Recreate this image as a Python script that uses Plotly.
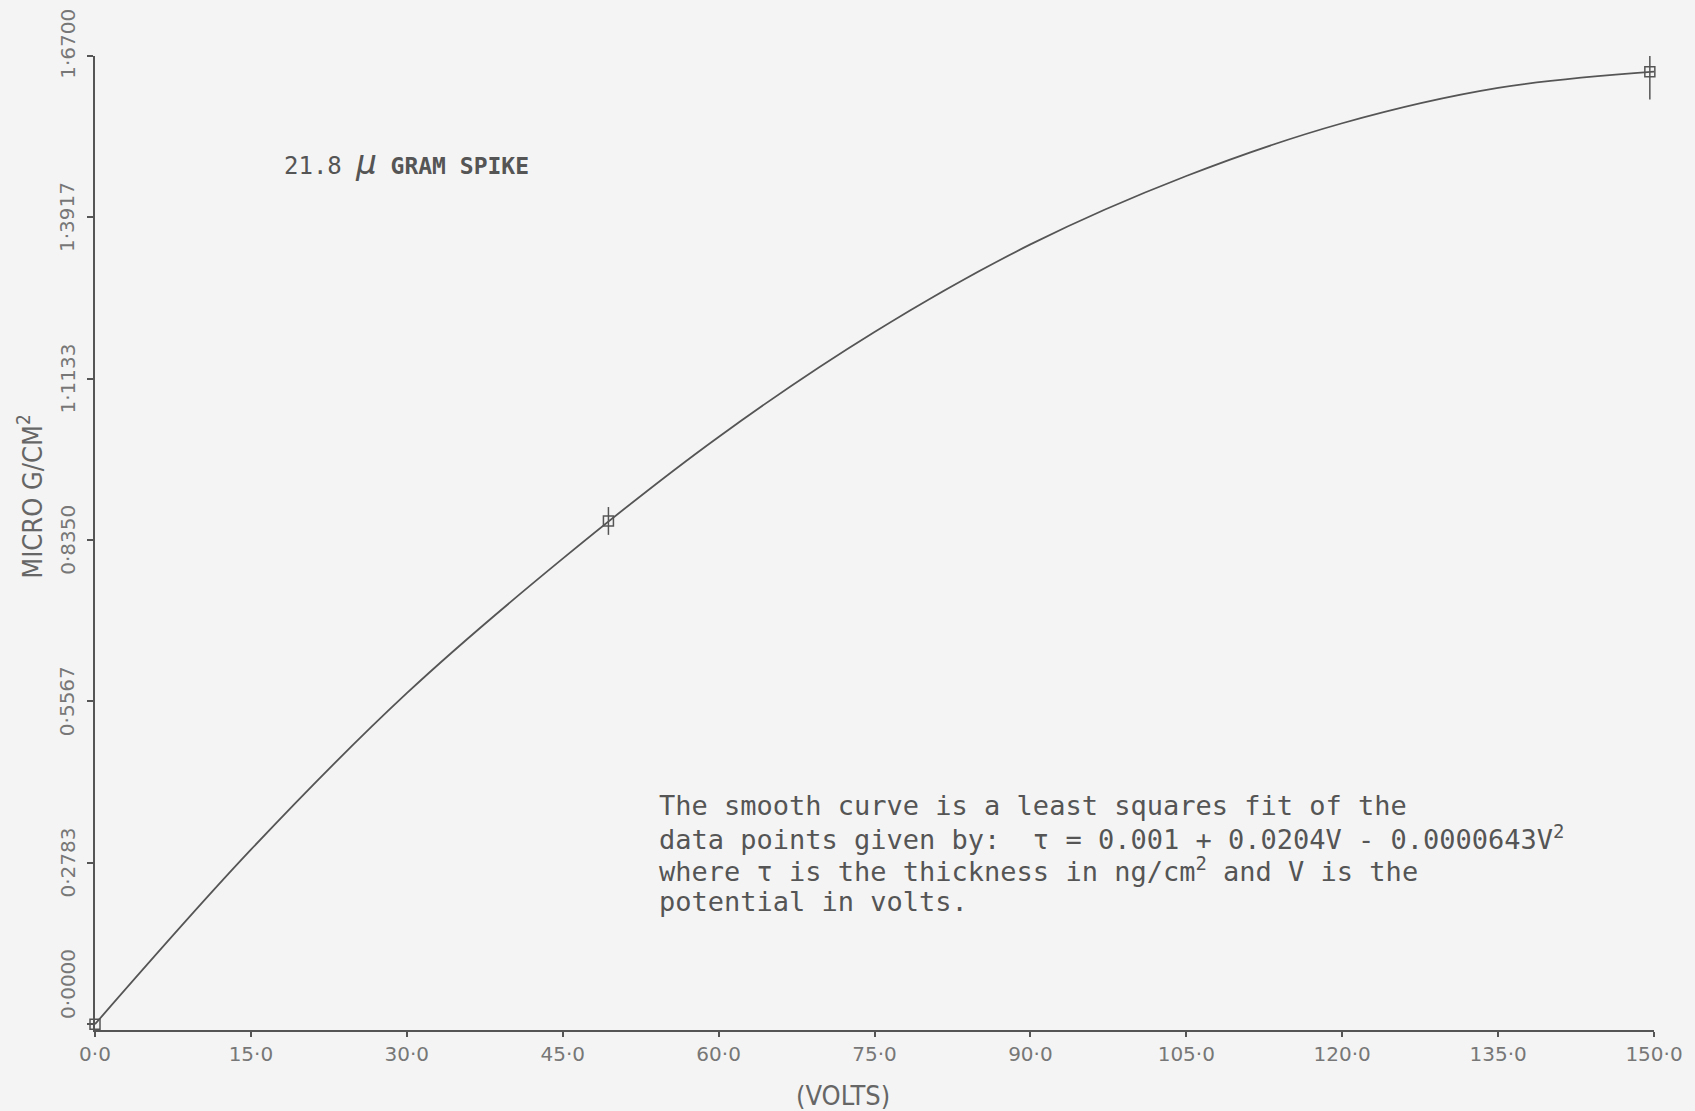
import plotly.graph_objects as go

# Fitted curve (volts, micro g/cm^2)
curve_v = [0, 15, 30, 45, 60, 75, 90, 105, 120, 135, 150]
curve_t = [0.0, 0.301, 0.571, 0.803, 1.013, 1.194, 1.345, 1.463, 1.554, 1.615, 1.643]

# Data points with error bars
pts_v = [0.0, 49.4, 149.6]
pts_t = [0.0, 0.868, 1.643]
pts_err = [0.0, 0.024, 0.048]

x_ticks = [0, 15, 30, 45, 60, 75, 90, 105, 120, 135, 150]
x_ticktext = ["0·0", "15·0", "30·0", "45·0", "60·0", "75·0", "90·0", "105·0", "120·0", "135·0", "150·0"]
y_ticks = [0.0, 0.2783, 0.5567, 0.8350, 1.1133, 1.3917, 1.6700]
y_ticktext = ["0·0000", "0·2783", "0·5567", "0·8350", "1·1133", "1·3917", "1·6700"]

note_lines = [
    "The smooth curve is a least squares fit of the",
    "data points given by:  τ = 0.001 + 0.0204V - 0.0000643V<sup>2</sup>",
    "where τ is the thickness in ng/cm<sup>2</sup> and V is the",
    "potential in volts.",
]

ink = "#555555"
mono = "DejaVu Sans Mono"
cond = "DejaVu Sans Condensed, DejaVu Sans"
tickfam = "DejaVu Sans"

fig = go.Figure()
fig.add_trace(go.Scatter(x=curve_v, y=curve_t, mode="lines",
                         line=dict(color=ink, width=1.8, shape="spline", smoothing=1.0),
                         hoverinfo="skip", showlegend=False))
fig.add_trace(go.Scatter(x=pts_v, y=pts_t, mode="markers",
                         marker=dict(symbol="square-open", size=10, color=ink, line=dict(width=1.5)),
                         error_y=dict(type="data", array=pts_err, visible=True, color=ink,
                                      thickness=1.5, width=0),
                         showlegend=False, cliponaxis=False))

fig.update_xaxes(range=[0, 150], tickvals=x_ticks, ticktext=x_ticktext,
                 showgrid=False, zeroline=False, showline=True, linecolor=ink, linewidth=1.5,
                 ticks="outside", ticklen=5, tickcolor=ink, tickwidth=1.5,
                 tickfont=dict(family=tickfam, size=20, color="#777"))
fig.update_yaxes(range=[-0.01, 1.67], tickvals=y_ticks, showticklabels=False,
                 showgrid=False, zeroline=False, showline=True, linecolor=ink, linewidth=1.5,
                 ticks="outside", ticklen=6, tickcolor=ink, tickwidth=1.5)

fig.update_layout(
    width=1695, height=1111,
    margin=dict(l=95, r=41, t=56, b=81),
    paper_bgcolor="#f4f4f4", plot_bgcolor="#f4f4f4",
)

# y tick labels (rotated); the end labels sit a little above their ticks as in the original
n_y = len(y_ticks)
for i, (val, lab) in enumerate(zip(y_ticks, y_ticktext)):
    shift = 40 if i == 0 else (12 if i == n_y - 1 else 0)
    fig.add_annotation(text=lab, x=-0.0175, xref="paper", y=val, yref="y", yshift=shift,
                       showarrow=False, textangle=-90, xanchor="center", yanchor="middle",
                       font=dict(family=tickfam, size=20, color="#777"))

fig.add_annotation(text="(VOLTS)", x=0.48, xref="paper", y=-0.067, yref="paper",
                   showarrow=False, yanchor="middle",
                   font=dict(family=cond, size=27, color="#666"))
fig.add_annotation(text="MICRO G/CM<sup>2</sup>", x=-0.042, xref="paper", y=0.548, yref="paper",
                   showarrow=False, textangle=-90, xanchor="center", yanchor="middle",
                   font=dict(family=cond, size=27, color="#666"))
fig.add_annotation(text="<span style='font-size:24px'>21.8 </span><i style='font-size:34px'>μ</i>"
                        "<b style='font-size:23px'> GRAM SPIKE</b>",
                   x=0.12, xref="paper", y=0.891, yref="paper", showarrow=False,
                   xanchor="left", yanchor="middle",
                   font=dict(family=mono, size=24, color="#555"))
for i, line in enumerate(note_lines):
    fig.add_annotation(text=line, x=0.3605, xref="paper", y=0.2305 - i * 0.0328, yref="paper",
                       showarrow=False, xanchor="left", yanchor="middle",
                       font=dict(family=mono, size=27, color="#555"))

fig.write_html("out.html", config={"displayModeBar": False},
               post_script="document.body.style.margin='0';")
